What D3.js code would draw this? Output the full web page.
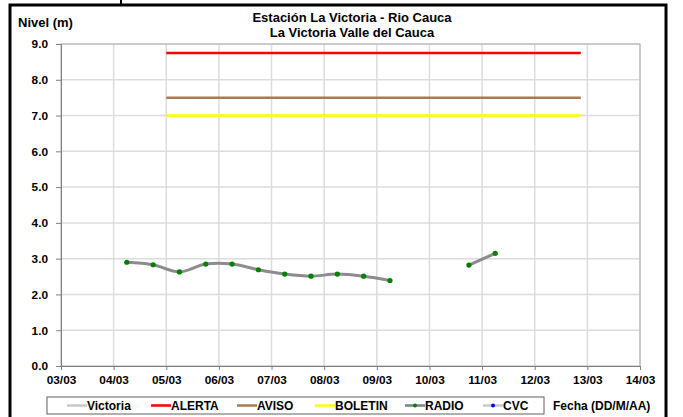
<!DOCTYPE html>
<html><head><meta charset="utf-8">
<script src="https://cdn.jsdelivr.net/npm/d3@7"></script>
<style>body{margin:0;background:#fff}svg{display:block}text{font-family:"Liberation Sans",Arial,sans-serif;font-weight:bold}</style>
</head><body>
<script>
const titleLines = ["Estación La Victoria - Rio Cauca", "La Victoria Valle del Cauca"];
const yLabel = "Nivel (m)";
const xLabel = "Fecha (DD/M/AA)";
const yTicks = [0,1,2,3,4,5,6,7,8,9];
const xTickLabels = ["03/03","04/03","05/03","06/03","07/03","08/03","09/03","10/03","11/03","12/03","13/03","14/03"];
const victoriaTimes = ["04/03 06:00","04/03 18:00","05/03 06:00","05/03 18:00","06/03 06:00","06/03 18:00","07/03 06:00","07/03 18:00","08/03 06:00","08/03 18:00","09/03 06:00","09/03 18:00","10/03 06:00","10/03 18:00","11/03 06:00"];
const victoriaValues = [2.90,2.83,2.63,2.85,2.85,2.69,2.57,2.51,2.57,2.51,2.39,null,null,2.82,3.15];
const thresholdNames = ["ALERTA","AVISO","BOLETIN"];
const thresholdValues = [8.75,7.5,7.0];
const thresholdColors = ["#ff0000","#a87c50","#ffff00"];
const thresholdStart = "05/03 00:00";
const thresholdEnd = "12/03 21:00";
const legendNames = ["Victoria","ALERTA","AVISO","BOLETIN","RADIO","CVC"];
const legendColors = ["#c8c8c8","#ff0000","#a87c50","#ffff00","#808080","#c8c8c8"];
const legendMarkers = [null,null,null,null,"#008000","#0000ff"];

const W=683,H=417;
const parse = d3.utcParse("%d/%m %H:%M");
const svg = d3.select("body").append("svg").attr("width",W).attr("height",H);
const m = {l:61, r:640, t:44, b:366};
const x = d3.scaleUtc().domain([parse("03/03 00:00"), parse("14/03 00:00")]).range([m.l, m.r]);
const y = d3.scaleLinear().domain([0,9]).range([m.b, m.t]);

// outer frame
svg.append("rect").attr("x",10).attr("y",5).attr("width",656).attr("height",430).attr("fill","none").attr("stroke","#000").attr("stroke-width",3);
svg.append("line").attr("x1",121).attr("x2",121).attr("y1",0).attr("y2",5).attr("stroke","#000").attr("stroke-width",2);

const xTickDates = xTickLabels.map(s=>parse(s+" 00:00"));
// grid
svg.append("g").selectAll("line").data(yTicks.slice(1)).join("line")
  .attr("x1",m.l).attr("x2",m.r).attr("y1",d=>y(d)).attr("y2",d=>y(d)).attr("stroke","#dcdcdc").attr("stroke-width",1.5);
svg.append("g").selectAll("line").data(xTickDates.slice(1)).join("line")
  .attr("y1",m.t).attr("y2",m.b).attr("x1",d=>x(d)).attr("x2",d=>x(d)).attr("stroke","#dcdcdc").attr("stroke-width",1.5);
svg.append("rect").attr("x",m.l).attr("y",m.t).attr("width",m.r-m.l).attr("height",m.b-m.t).attr("fill","none").attr("stroke","#b0b0b0").attr("stroke-width",1);

// axes
const yAxis = svg.append("g").attr("transform",`translate(${m.l},0)`)
  .call(d3.axisLeft(y).tickValues(yTicks).tickFormat(d3.format(".1f")).tickSize(5).tickPadding(8));
const xAxis = svg.append("g").attr("transform",`translate(0,${m.b})`)
  .call(d3.axisBottom(x).tickValues(xTickDates).tickFormat((d,i)=>xTickLabels[i]).tickSize(4).tickPadding(6));
[yAxis,xAxis].forEach(g=>{
  g.select(".domain").attr("stroke","#808080");
  g.selectAll(".tick line").attr("stroke","#808080");
  g.selectAll("text").attr("font-size",11.8).attr("fill","#000").attr("font-family","Liberation Sans, Arial").attr("font-weight","bold");
});

// thresholds
thresholdValues.forEach((v,i)=>{
  svg.append("line").attr("x1",x(parse(thresholdStart))).attr("x2",x(parse(thresholdEnd)))
    .attr("y1",y(v)).attr("y2",y(v)).attr("stroke",thresholdColors[i]).attr("stroke-width",2.5);
});

// victoria series
const data = victoriaTimes.map((t,i)=>({t:parse(t), v:victoriaValues[i]}));
const line = d3.line().defined(d=>d.v!=null).x(d=>x(d.t)).y(d=>y(d.v)).curve(d3.curveCatmullRom.alpha(0.5));
svg.append("path").datum(data).attr("d",line).attr("fill","none").attr("stroke","#8c8c8c").attr("stroke-width",3);
svg.append("g").selectAll("circle").data(data.filter(d=>d.v!=null)).join("circle")
  .attr("cx",d=>x(d.t)).attr("cy",d=>y(d.v)).attr("r",2.6).attr("fill","#008000");

// titles
titleLines.forEach((t,i)=>svg.append("text").attr("x",352).attr("y",22+i*14.5).attr("text-anchor","middle").attr("font-size",13).text(t));
svg.append("text").attr("x",18).attr("y",27).attr("font-size",13).text(yLabel);
svg.append("text").attr("x",553).attr("y",410).attr("font-size",12).text(xLabel);

// legend
svg.append("rect").attr("x",47).attr("y",397).attr("width",497).attr("height",17).attr("fill","#fff").attr("stroke","#606060").attr("stroke-width",1);
const legX = [67,151,237,315,405,483];
legendNames.forEach((n,i)=>{
  const lx = legX[i], ly = 405.5;
  svg.append("line").attr("x1",lx).attr("x2",lx+20).attr("y1",ly).attr("y2",ly).attr("stroke",legendColors[i]).attr("stroke-width",2.5);
  if(legendMarkers[i]) svg.append("circle").attr("cx",lx+10).attr("cy",ly).attr("r",2).attr("fill",legendMarkers[i]);
  svg.append("text").attr("x",lx+20).attr("y",ly+4.5).attr("font-size",12).text(n);
});
</script>
</body></html>
